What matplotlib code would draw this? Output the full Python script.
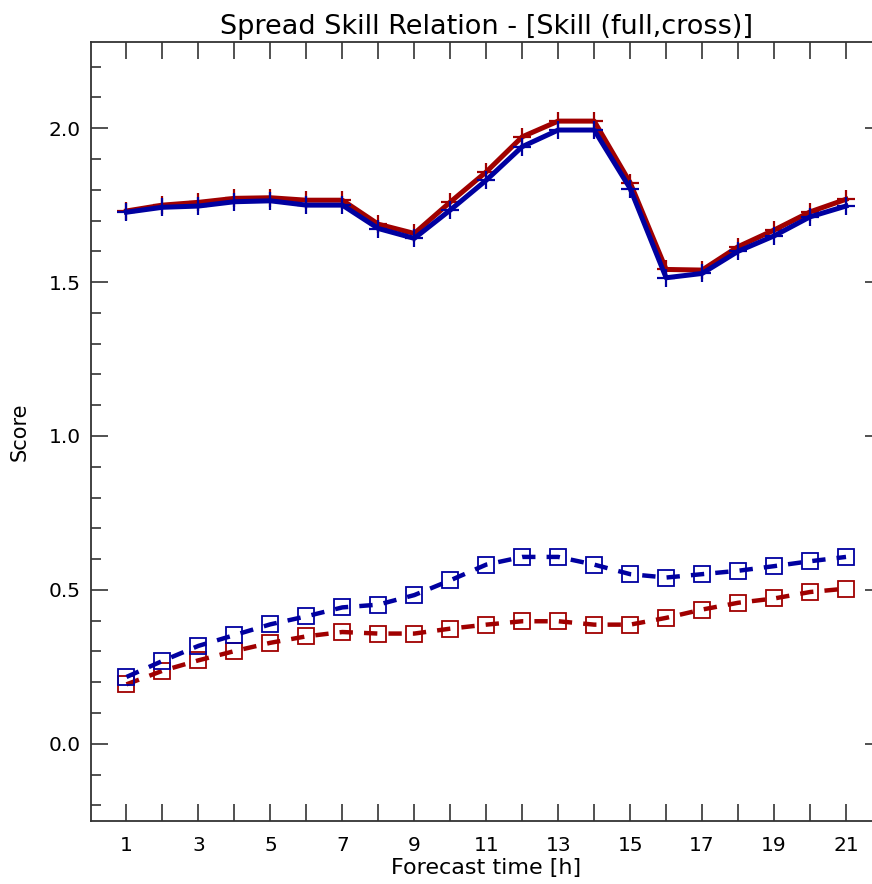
import matplotlib
matplotlib.use("Agg")
import matplotlib.pyplot as plt
from matplotlib.ticker import MultipleLocator, FixedLocator, FixedFormatter

lead = list(range(1, 22))
skill_full = [1.731, 1.750, 1.759, 1.772, 1.774, 1.766, 1.766, 1.688, 1.658, 1.760, 1.858,
              1.972, 2.023, 2.023, 1.823, 1.541, 1.539, 1.615, 1.669, 1.728, 1.769]
skill_cross = [1.727, 1.743, 1.747, 1.761, 1.764, 1.750, 1.750, 1.674, 1.642, 1.734, 1.831,
               1.940, 1.994, 1.994, 1.804, 1.514, 1.528, 1.600, 1.650, 1.712, 1.747]
spread_full = [0.193, 0.237, 0.271, 0.301, 0.328, 0.349, 0.363, 0.358, 0.358, 0.374, 0.387,
               0.398, 0.398, 0.387, 0.387, 0.409, 0.436, 0.458, 0.472, 0.493, 0.504]
spread_cross = [0.217, 0.269, 0.318, 0.353, 0.388, 0.414, 0.443, 0.452, 0.483, 0.531, 0.582,
                0.607, 0.607, 0.582, 0.551, 0.540, 0.551, 0.562, 0.577, 0.593, 0.607]
xtick_labels = [str(v) if v % 2 == 1 else "" for v in lead]

RED = "#a00000"
BLUE = "#0000a0"

W, H = 872, 884
fig = plt.figure(figsize=(W / 100, H / 100), dpi=100)
left, right, top, bottom = 90.5, 882.0, 42.0, 820.7
ax = fig.add_axes([left / W, 1 - bottom / H, (right - left) / W, (bottom - top) / H])

ax.plot(lead, skill_cross, color=BLUE, lw=3.6, marker="+", ms=13, mew=1.6, zorder=3)
ax.plot(lead, skill_full, color=RED, lw=3.6, marker="+", ms=13, mew=1.6, zorder=2)
ax.plot(lead, spread_cross, color=BLUE, lw=3.2, ls=(0, (3.0, 2.5)), marker="s", ms=11,
        mfc="none", mec=BLUE, mew=1.3, zorder=3)
ax.plot(lead, spread_full, color=RED, lw=3.2, ls=(0, (3.0, 2.5)), marker="s", ms=11,
        mfc="none", mec=RED, mew=1.3, zorder=2)

ax.set_xlim(0, 22)
ax.set_ylim(-0.25, 2.28)

ax.xaxis.set_major_locator(FixedLocator(lead))
ax.xaxis.set_major_formatter(FixedFormatter(xtick_labels))
ax.yaxis.set_major_locator(MultipleLocator(0.5))
ax.yaxis.set_minor_locator(MultipleLocator(0.1))
ax.yaxis.set_major_formatter(matplotlib.ticker.FormatStrFormatter("%.1f"))

ax.tick_params(axis="both", which="both", direction="in", top=True, right=True,
               color="#333333", width=1.2)
ax.tick_params(axis="x", which="major", length=12, labelsize=14.5, pad=11)
ax.tick_params(axis="y", which="major", length=12, labelsize=14.5, pad=7)
ax.tick_params(axis="y", which="minor", length=7)
for s in ax.spines.values():
    s.set_color("#333333")
    s.set_linewidth(1.3)

ax.set_title("Spread Skill Relation - [Skill (full,cross)]", fontsize=19.5, pad=6)
ax.set_xlabel("Forecast time [h]", fontsize=16, labelpad=2)
ax.set_ylabel("Score", fontsize=15, labelpad=14)

fig.savefig("out.png", dpi=100)
